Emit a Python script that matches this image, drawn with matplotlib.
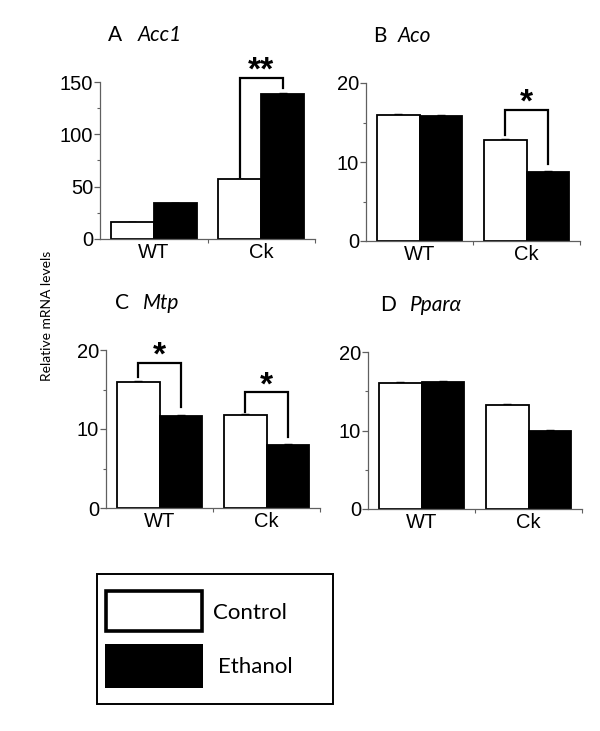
import numpy as np
import matplotlib
matplotlib.use('Agg')
import matplotlib.pyplot as plt
from matplotlib.patches import Rectangle

# data
groups = ['WT', 'Ck']
panel_letters = ['A', 'B', 'C', 'D']
genes = ['Acc1', 'Aco', 'Mtp', 'Ppar\u03b1']
control = [[16, 57], [16.0, 12.8], [16.0, 11.8], [16.1, 13.3]]
ethanol = [[34, 139], [15.8, 8.7], [11.7, 8.0], [16.2, 9.9]]
control_err = [[0.3, 0.5], [0.12, 0.12], [0.12, 0.12], [0.12, 0.12]]
ethanol_err = [[0.3, 0.5], [0.12, 0.12], [0.12, 0.12], [0.12, 0.12]]
y_max = [150, 20, 20, 20]
y_major = [[0, 50, 100, 150], [0, 10, 20], [0, 10, 20], [0, 10, 20]]
y_minor = [[25, 75, 125], [5, 15], [5, 15], [5, 15]]

# significance brackets: (panel, group index, top, left leg end, right leg end, label)
brackets = [
    (0, 1, 154, 59.5, 144.5, '**'),
    (1, 1, 16.6, 13.4, 9.8, '*'),
    (2, 0, 18.4, 16.6, 12.8, '*'),
    (2, 1, 14.65, 12.1, 9.0, '*'),
]

W, H = 600, 731
fig = plt.figure(figsize=(W / 100, H / 100), dpi=100)

def px_rect(left, right, y0, ytop):
    return [left / W, 1 - y0 / H, (right - left) / W, (y0 - ytop) / H]

# axes boxes in pixels: left, right, y of zero, y of top
boxes = [
    (100, 315, 239, 82),
    (366, 580, 241, 83),
    (106, 320, 508, 350),
    (368, 582, 509, 352),
]
title_pos = [(108, 138, 35), (373, 398, 36), (115, 143, 303), (380, 410, 305)]

tick_font = {'family': 'Liberation Sans', 'size': 14.5}
spine_col = '#606060'
bar_w = 0.40
x = np.arange(len(groups))

axes = []
for i in range(4):
    ax = fig.add_axes(px_rect(*boxes[i]))
    axes.append(ax)
    ax.bar(x - bar_w / 2, control[i], bar_w, color='white', edgecolor='black', linewidth=1.3, zorder=2)
    ax.bar(x + bar_w / 2, ethanol[i], bar_w, color='black', edgecolor='black', linewidth=1.3, zorder=2)
    ax.errorbar(x - bar_w / 2, control[i], yerr=[[0, 0], control_err[i]], fmt='none',
                ecolor='black', elinewidth=1, capsize=3, zorder=1)
    ax.errorbar(x + bar_w / 2, ethanol[i], yerr=[[0, 0], ethanol_err[i]], fmt='none',
                ecolor='black', elinewidth=1, capsize=3, zorder=1)
    ax.set_xlim(-0.5, 1.5)
    ax.set_ylim(0, y_max[i])
    ax.spines['top'].set_visible(False)
    ax.spines['right'].set_visible(False)
    for s in ['left', 'bottom']:
        ax.spines[s].set_color(spine_col)
        ax.spines[s].set_linewidth(0.9)
    ax.set_yticks(y_major[i])
    ax.set_yticks(y_minor[i], minor=True)
    ax.set_yticklabels([str(v) for v in y_major[i]], fontdict=tick_font)
    ax.set_xticks(x)
    ax.set_xticklabels(groups, fontdict=tick_font)
    ax.set_xticks([0.5, 1.5], minor=True)
    ax.tick_params(axis='y', which='major', length=4, width=0.9, color=spine_col, pad=1)
    ax.tick_params(axis='y', which='minor', length=2, width=0.8, color=spine_col)
    ax.tick_params(axis='x', which='major', length=0, pad=3)
    ax.tick_params(axis='x', which='minor', length=3, width=0.8, color=spine_col)

    lx, gx, ty = title_pos[i]
    fig.text(lx / W, 1 - ty / H, panel_letters[i], family='Lato', fontsize=15, va='center')
    fig.text(gx / W, 1 - ty / H, genes[i], family=['Lato', 'DejaVu Sans'], style='italic',
             fontsize=15, va='center')

for p, g, top, lb, rb, lab in brackets:
    ax = axes[p]
    xl, xr = g - bar_w / 2, g + bar_w / 2
    ax.plot([xl, xl, xr, xr], [lb, top, top, rb], color='black', lw=1.6,
            clip_on=False, zorder=3, solid_joinstyle='miter')
    ax.annotate(lab, (g, top), xytext=(0, -1.5), textcoords='offset points',
                ha='center', va='baseline', fontsize=24, fontweight='bold',
                family='Liberation Sans', annotation_clip=False)

fig.text(47 / W, 1 - 316 / H, 'Relative mRNA levels', rotation=90, family='Lato',
         fontsize=10, va='center', ha='center')

# legend drawn in pixel space
lax = fig.add_axes([0, 0, 1, 1], zorder=-1)
lax.set_xlim(0, W)
lax.set_ylim(H, 0)
lax.axis('off')
lax.add_patch(Rectangle((97, 574), 236, 130, fill=False, edgecolor='black', lw=1.4))
lax.add_patch(Rectangle((106, 591), 96, 40, facecolor='white', edgecolor='black', lw=2.6))
lax.add_patch(Rectangle((105, 644), 98, 44, facecolor='black', edgecolor='black', lw=0))
lax.text(213, 613, 'Control', family='Lato', fontsize=16, va='center')
lax.text(218, 667, 'Ethanol', family='Lato', fontsize=16, va='center')

fig.savefig('out.png', dpi=100)
